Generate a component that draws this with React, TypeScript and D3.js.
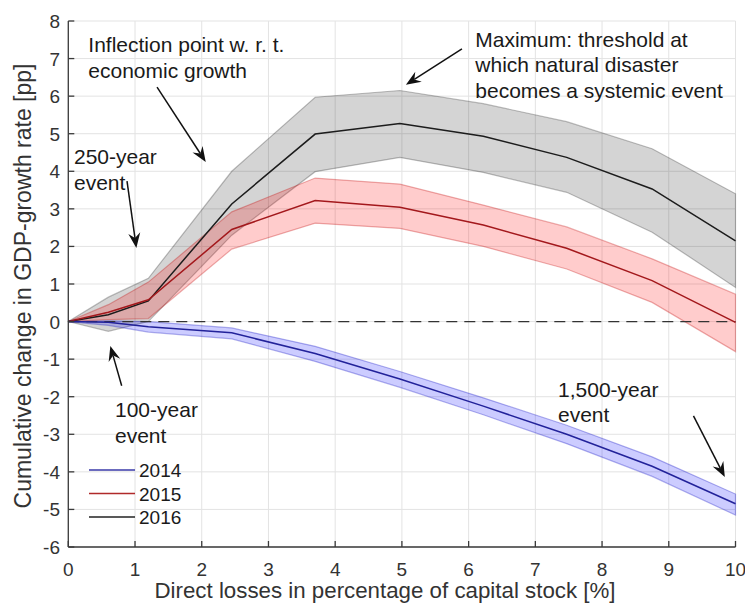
import React from "react";
import * as d3 from "d3";

const lossX = [0, 0.6, 1.2, 2.45, 3.7, 4.97, 6.22, 7.47, 8.75, 10];

const mean2014 = [0, -0.02, -0.14, -0.3, -0.85, -1.53, -2.25, -3.0, -3.85, -4.85];
const upper2014 = [0, 0.02, 0.0, -0.17, -0.66, -1.33, -2.03, -2.76, -3.6, -4.59];
const lower2014 = [0, -0.1, -0.28, -0.46, -1.06, -1.75, -2.48, -3.25, -4.12, -5.15];

const mean2015 = [0, 0.25, 0.58, 2.45, 3.22, 3.04, 2.57, 1.95, 1.09, -0.02];
const upper2015 = [0, 0.45, 1.05, 2.92, 3.82, 3.66, 3.1, 2.52, 1.67, 0.73];
const lower2015 = [0, 0.05, 0.08, 1.93, 2.62, 2.48, 2.0, 1.4, 0.51, -0.8];

const mean2016 = [0, 0.18, 0.55, 3.13, 4.99, 5.27, 4.93, 4.37, 3.53, 2.15];
const upper2016 = [0, 0.65, 1.15, 4.0, 5.97, 6.15, 5.8, 5.32, 4.6, 3.4];
const lower2016 = [0, -0.26, 0, 2.3, 3.99, 4.37, 3.97, 3.44, 2.38, 0.91];

const xTicks = [0, 1, 2, 3, 4, 5, 6, 7, 8, 9, 10];
const yTicks = [-6, -5, -4, -3, -2, -1, 0, 1, 2, 3, 4, 5, 6, 7, 8];
const legendLabels = ["2014", "2015", "2016"];

const W = 745;
const H = 611;
const FONT = "'Liberation Sans', Arial, Helvetica, sans-serif";

const x = d3.scaleLinear().domain([0, 10]).range([68.3, 735.5]);
const y = d3.scaleLinear().domain([-6, 8]).range([547, 21]);

type Series = { mean: number[]; up: number[]; lo: number[]; line: string; fill: string; edge: string };
const series: Series[] = [
  { mean: mean2016, up: upper2016, lo: lower2016, line: "#1c1c1c", fill: "rgba(0,0,0,0.17)", edge: "rgba(0,0,0,0.25)" },
  { mean: mean2015, up: upper2015, lo: lower2015, line: "#a3181c", fill: "rgba(255,0,0,0.2)", edge: "rgba(190,0,0,0.3)" },
  { mean: mean2014, up: upper2014, lo: lower2014, line: "#22229a", fill: "rgba(0,0,255,0.2)", edge: "rgba(0,0,190,0.3)" },
];
const legendColors = ["#3a3aa8", "#b02a2a", "#222222"];

function Arrow({ x1, y1, x2, y2 }: { x1: number; y1: number; x2: number; y2: number }) {
  const px1 = x(x1), py1 = y(y1), px2 = x(x2), py2 = y(y2);
  const dx = px2 - px1, dy = py2 - py1;
  const len = Math.hypot(dx, dy);
  const ux = dx / len, uy = dy / len;
  const nx = -uy, ny = ux;
  const L = 15, Wd = 6, back = 10;
  const bx = px2 - ux * L, by = py2 - uy * L;
  const nbx = px2 - ux * back, nby = py2 - uy * back;
  const head = `M${px2},${py2} L${bx + nx * Wd},${by + ny * Wd} L${nbx},${nby} L${bx - nx * Wd},${by - ny * Wd} Z`;
  return (
    <g>
      <line x1={px1} y1={py1} x2={nbx} y2={nby} stroke="#111" strokeWidth={1.5} />
      <path d={head} fill="#111" />
    </g>
  );
}

function Label({ xd, yd, lines, size = 21 }: { xd: number; yd: number; lines: string[]; size?: number }) {
  return (
    <text x={x(xd)} y={y(yd)} fontSize={size} fontFamily={FONT} fill="#1a1a1a">
      {lines.map((l, i) => (
        <tspan key={i} x={x(xd)} dy={i === 0 ? 0 : 25.5}>
          {l}
        </tspan>
      ))}
    </text>
  );
}

export default function App() {
  const area = (s: Series) =>
    d3
      .area<number>()
      .x((_, i) => x(lossX[i]))
      .y0((_, i) => y(s.lo[i]))
      .y1((_, i) => y(s.up[i]))(s.mean) || "";
  const lineOf = (vals: number[]) =>
    d3
      .line<number>()
      .x((_, i) => x(lossX[i]))
      .y((v) => y(v))(vals) || "";

  const [x0, x1] = x.range();
  const [yB, yT] = y.range();

  return (
    <svg width={W} height={H} style={{ position: "absolute", left: 0, top: 0, background: "#fff" }}>
      {/* grid */}
      {xTicks.map((t) => (
        <line key={"gx" + t} x1={x(t)} x2={x(t)} y1={yB} y2={yT} stroke="#e3e3e3" strokeWidth={1} />
      ))}
      {yTicks.map((t) => (
        <line key={"gy" + t} x1={x0} x2={x1} y1={y(t)} y2={y(t)} stroke="#e3e3e3" strokeWidth={1} />
      ))}

      {/* bands */}
      {series.map((s, i) => (
        <path key={"b" + i} d={area(s)} fill={s.fill} stroke={s.edge} strokeWidth={1.2} />
      ))}

      {/* zero line */}
      <line x1={x0} x2={x1} y1={y(0)} y2={y(0)} stroke="#333" strokeWidth={1.3} strokeDasharray="11,7" />

      {/* lines */}
      {series.map((s, i) => (
        <path key={"l" + i} d={lineOf(s.mean)} fill="none" stroke={s.line} strokeWidth={1.5} />
      ))}

      {/* axes */}
      <line x1={x0} x2={x0} y1={yB} y2={yT} stroke="#3a3a3a" strokeWidth={1.3} />
      <line x1={x0} x2={x1} y1={yB} y2={yB} stroke="#3a3a3a" strokeWidth={1.3} />
      {xTicks.map((t) => (
        <g key={"tx" + t}>
          <line x1={x(t)} x2={x(t)} y1={yB} y2={yB - 6} stroke="#3a3a3a" strokeWidth={1.3} />
          <text x={x(t)} y={576} textAnchor="middle" fontSize={19} fontFamily={FONT} fill="#333">
            {t}
          </text>
        </g>
      ))}
      {yTicks.map((t) => (
        <g key={"ty" + t}>
          <line x1={x0} x2={x0 + 6} y1={y(t)} y2={y(t)} stroke="#3a3a3a" strokeWidth={1.3} />
          <text x={60} y={y(t) + 7} textAnchor="end" fontSize={19} fontFamily={FONT} fill="#333">
            {t}
          </text>
        </g>
      ))}

      {/* axis labels */}
      <text x={385} y={598} textAnchor="middle" fontSize={22.3} fontFamily={FONT} fill="#333">
        Direct losses in percentage of capital stock [%]
      </text>
      <text
        transform={`translate(31,${286}) rotate(-90)`}
        textAnchor="middle"
        fontSize={23}
        fontFamily={FONT}
        fill="#333"
      >
        Cumulative change in GDP-growth rate [pp]
      </text>

      {/* annotations */}
      <Label xd={0.3} yd={7.17} lines={["Inflection point w. r. t.", "economic growth"]} />
      <Arrow x1={1.33} y1={6.24} x2={2.06} y2={4.25} />
      <Label xd={0.085} yd={4.19} lines={["250-year", "event"]} />
      <Arrow x1={0.88} y1={3.74} x2={1.02} y2={1.96} />
      <Label xd={6.1} yd={7.31} lines={["Maximum: threshold at", "which natural disaster", "becomes a systemic event"]} />
      <Arrow x1={5.9} y1={7.26} x2={5.06} y2={6.3} />
      <Label xd={0.7} yd={-2.54} lines={["100-year", "event"]} />
      <Arrow x1={0.8} y1={-1.71} x2={0.63} y2={-0.65} />
      <Label xd={7.34} yd={-2.0} lines={["1,500-year", "event"]} />
      <Arrow x1={9.37} y1={-2.51} x2={9.84} y2={-4.14} />

      {/* legend */}
      {legendLabels.map((lab, i) => (
        <g key={"lg" + i}>
          <line x1={89} x2={135} y1={470 + i * 23.5} y2={470 + i * 23.5} stroke={legendColors[i]} strokeWidth={1.5} />
          <text x={139} y={470 + i * 23.5 + 7} fontSize={19} fontFamily={FONT} fill="#1a1a1a">
            {lab}
          </text>
        </g>
      ))}
    </svg>
  );
}
